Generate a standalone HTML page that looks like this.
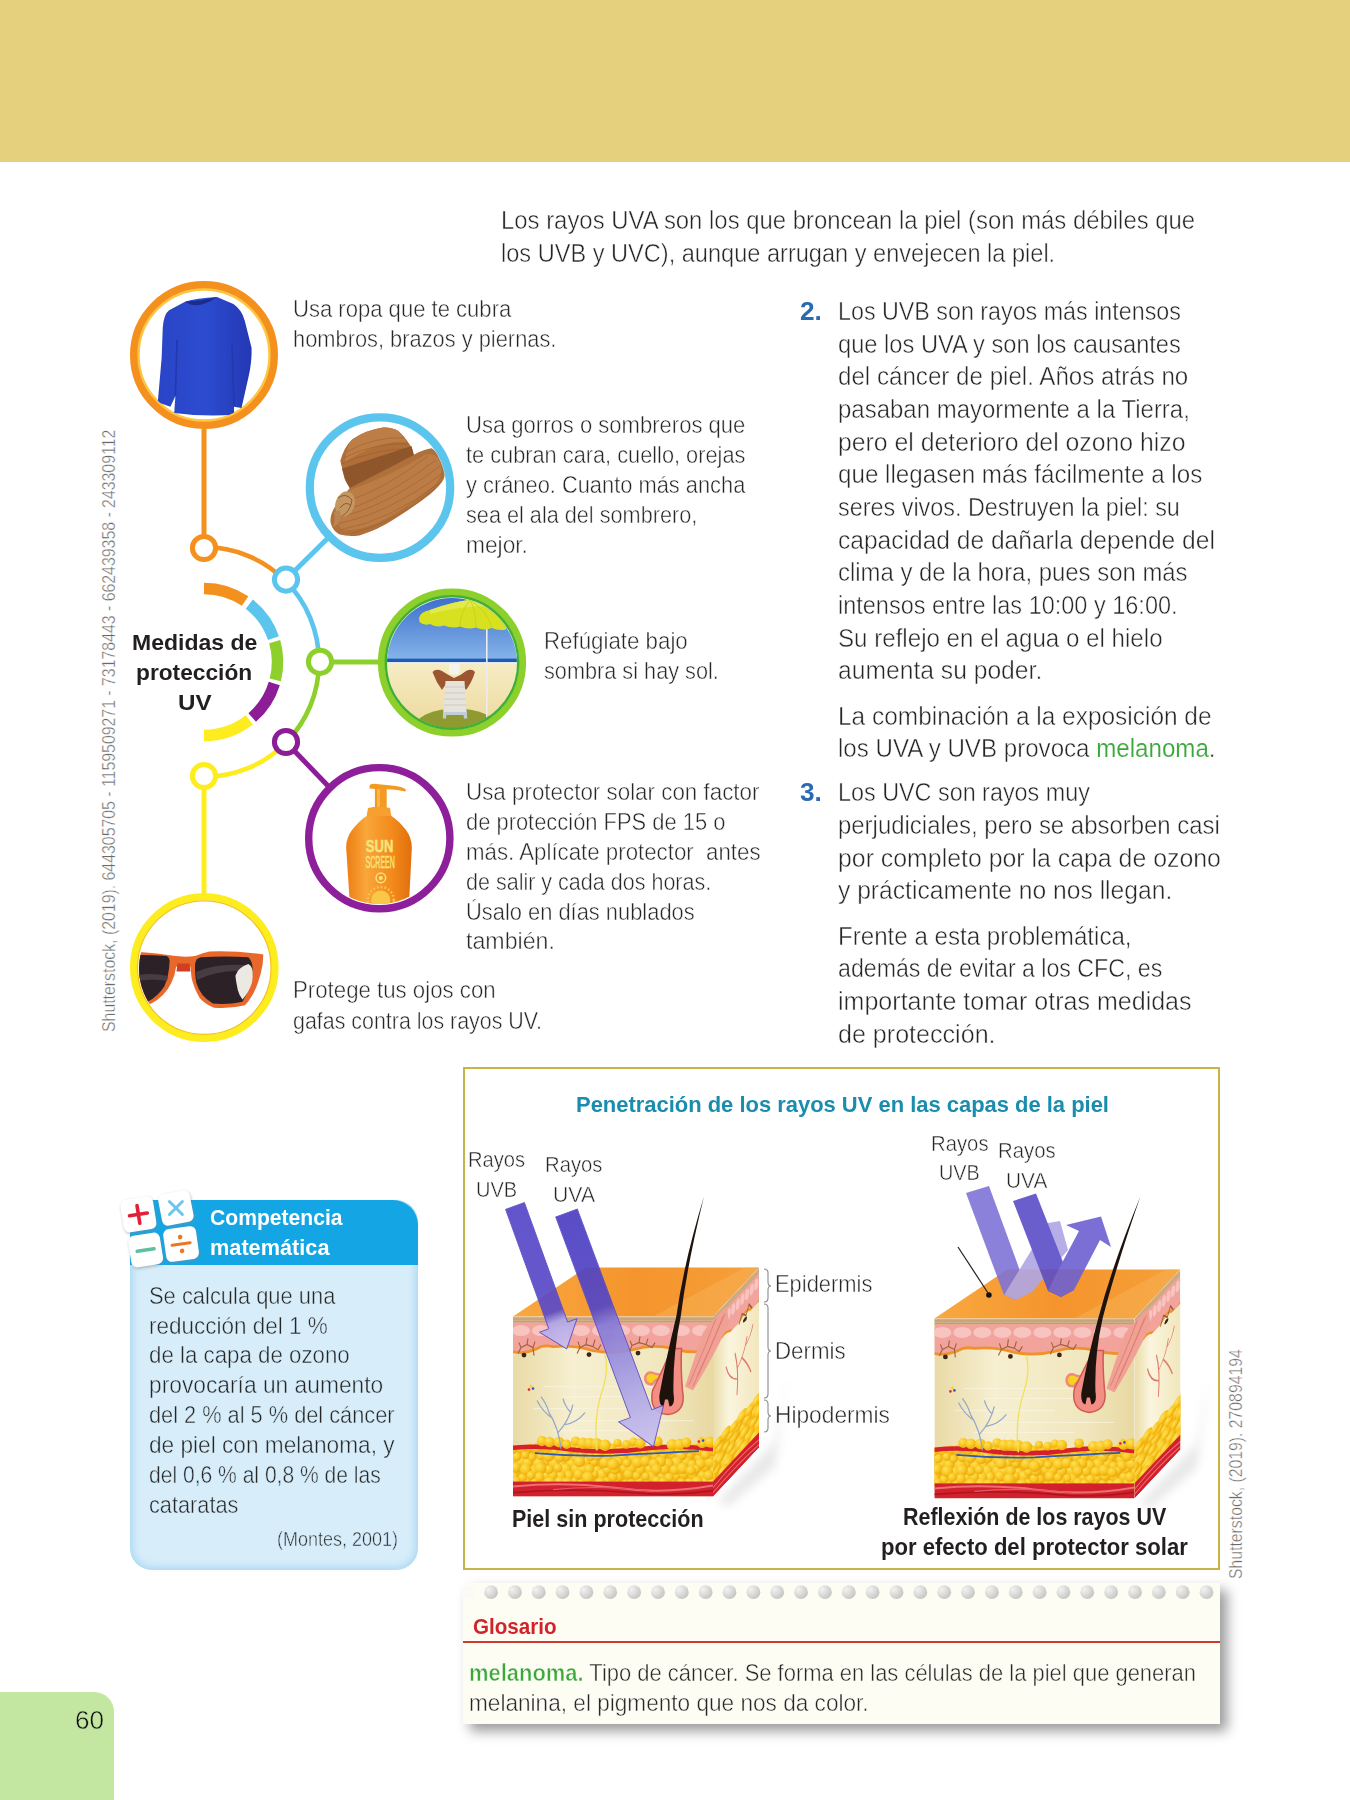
<!DOCTYPE html>
<html lang="es"><head><meta charset="utf-8"><title>Medidas de protección UV</title>
<style>
html,body{margin:0;padding:0;background:#fff}
body{width:1350px;height:1800px;position:relative;overflow:hidden;font-family:"Liberation Sans",sans-serif;color:#262626}
.t{position:absolute;white-space:pre;line-height:1;transform-origin:0 0;margin:0;-webkit-text-stroke:0.5px #fff}
.v{position:absolute;white-space:pre;line-height:1;transform-origin:0 0;color:#6a6a6a;-webkit-text-stroke:0.4px #fff}
.abs{position:absolute}
svg{position:absolute;left:0;top:0}
</style></head><body>
<div class="abs" style="left:0;top:0;width:1350px;height:162px;background:#e4d07d"></div>
<div class="abs" style="left:0;top:1692px;width:114px;height:108px;background:#c3e6a1;border-top-right-radius:20px"></div>
<div class="abs" style="left:463px;top:1067px;width:753px;height:499px;border:2px solid #c9b344"></div>
<div class="abs" style="left:463px;top:1583px;width:757px;height:141px;background:#fdfdf4;box-shadow:7px 7px 12px rgba(0,0,0,.4)"></div>
<div class="abs" style="left:463px;top:1640.8px;width:757px;height:2.1px;background:#cf3a2e"></div>
<div class="abs" style="left:130px;top:1200px;width:288px;height:370px;background:#d7edfa;border-radius:22px;box-shadow:inset 0 0 8px 2px #a4d5f0"></div>
<div class="abs" style="left:130px;top:1200px;width:288px;height:65px;background:#14a6e4;border-radius:22px 25px 0 0"></div>
<svg width="1350" height="1800" viewBox="0 0 1350 1800">
<defs>
  <clipPath id="c1"><circle cx="204" cy="355" r="65"/></clipPath>
  <clipPath id="c2"><circle cx="380" cy="487.5" r="66"/></clipPath>
  <clipPath id="c3"><circle cx="452" cy="663" r="65"/></clipPath>
  <clipPath id="c4"><circle cx="379" cy="838" r="66"/></clipPath>
  <clipPath id="c5"><circle cx="204" cy="968.5" r="65"/></clipPath>
  <linearGradient id="sky" x1="0" y1="0" x2="0" y2="1">
    <stop offset="0" stop-color="#3567c8"/><stop offset="1" stop-color="#86b4ea"/>
  </linearGradient>
  <linearGradient id="sand" x1="0" y1="0" x2="0" y2="1">
    <stop offset="0" stop-color="#f6ecc4"/><stop offset="1" stop-color="#ecd79a"/>
  </linearGradient>
  <linearGradient id="bottle" x1="0" y1="0" x2="1" y2="0">
    <stop offset="0" stop-color="#ee7d12"/><stop offset=".3" stop-color="#f9a63a"/><stop offset=".7" stop-color="#f38a1c"/><stop offset="1" stop-color="#e06f0c"/>
  </linearGradient>
  <linearGradient id="sweat" x1="0" y1="0" x2="1" y2="0">
    <stop offset="0" stop-color="#2a44c6"/><stop offset=".5" stop-color="#2c4cd0"/><stop offset="1" stop-color="#2438b4"/>
  </linearGradient>
</defs>

<!-- connector lines -->
<g fill="none" stroke-width="5">
  <line x1="204" y1="425" x2="204" y2="536" stroke="#f4911e"/>
  <line x1="294" y1="571.5" x2="332" y2="534" stroke="#5bc5ee"/>
  <line x1="331" y1="662" x2="382" y2="662" stroke="#8dd02c"/>
  <line x1="294" y1="750.5" x2="331" y2="789" stroke="#8c1d97"/>
  <line x1="204" y1="788" x2="204" y2="898" stroke="#fdec1e"/>
</g>
<!-- outer arcs r=115 about (204,662) -->
<g fill="none" stroke-width="4.6">
  <path d="M204 547 A115 115 0 0 1 285.3 580.7" stroke="#f4911e"/>
  <path d="M285.3 580.7 A115 115 0 0 1 319 662" stroke="#5bc5ee"/>
  <path d="M319 662 A115 115 0 0 1 285.3 743.3" stroke="#8dd02c"/>
  <path d="M285.3 743.3 A115 115 0 0 1 204 777" stroke="#fdec1e"/>
</g>
<!-- inner segmented arcs r=73.5 -->
<g fill="none" stroke-width="11.5">
  <path d="M204.0 588.5 A73.5 73.5 0 0 1 245.1 601.1" stroke="#f4911e"/>
  <path d="M249.3 604.1 A73.5 73.5 0 0 1 273.5 638.1" stroke="#5bc5ee"/>
  <path d="M274.7 641.7 A73.5 73.5 0 0 1 275.3 679.8" stroke="#8dd02c"/>
  <path d="M274.3 683.5 A73.5 73.5 0 0 1 252.2 717.5" stroke="#8c1d97"/>
  <path d="M249.3 719.9 A73.5 73.5 0 0 1 204.0 735.5" stroke="#fdec1e"/>
</g>
<!-- nodes -->
<g fill="#fff" stroke-width="5">
  <circle cx="204" cy="548" r="11.6" stroke="#f4911e"/>
  <circle cx="286" cy="579.6" r="11.6" stroke="#5bc5ee"/>
  <circle cx="320" cy="661.8" r="11.6" stroke="#8dd02c"/>
  <circle cx="286" cy="742" r="11.6" stroke="#8c1d97"/>
  <circle cx="204" cy="776" r="11.6" stroke="#fdec1e"/>
</g>

<!-- circle 1 : sweater -->
<circle cx="204" cy="355" r="70" fill="#fff" stroke="#f4911e" stroke-width="8"/>
<circle cx="204" cy="355" r="65.5" fill="none" stroke="#fdc540" stroke-width="2.4"/>
<g clip-path="url(#c1)">
  <path d="M185.5 301.5 Q196 298 217 297 L233.4 304 Q242 310 244.7 320.4 L251.6 348 Q252 362 248.5 377 L241.5 408 L234 406.7 L234 414.8 Q204 417 174.2 413 L175.4 396 L170.4 406.7 L157.8 402.2 L161.6 358.2 L162.8 326.7 Q164 314 169.1 310.3 Z" fill="url(#sweat)"/>
  <path d="M185.5 301.5 Q196.8 311 217 297 Q200 301 185.5 301.5Z" fill="#1c2c8c"/>
  <path d="M175.4 396 L177 340 M234 406 L232 345" stroke="#2238ae" stroke-width="1.6" fill="none"/>
</g>

<!-- circle 2 : hat -->
<circle cx="380" cy="487.6" r="70.2" fill="#fff" stroke="#5bc5ee" stroke-width="8.2"/>
<g clip-path="url(#c2)">
  <path d="M349.8 488 L335.6 505.7 Q329 516 330.8 523.5 Q333 531 339.1 534.2 Q348 537 359.3 535.4 Q378 530 394.8 518.8 Q415 506 430.4 493.9 Q441 485 444 478.5 Q446.5 470 442.2 461.9 Q438 452 431.6 448.3 Q422 450 413.8 454.8 L380 450 Z" fill="#b0703a"/>
  <path d="M350 490 Q390 476 425 455 Q436 452 440 462 Q444 474 436 484 Q410 506 380 522 Q356 532 342 530 Q336 524 340 508 Z" fill="#bc7c46"/>
  <g fill="none" stroke="#9a5e2e" stroke-width=".8" opacity=".65">
    <path d="M338 512 Q380 502 436 460"/><path d="M336 518 Q384 508 440 466"/><path d="M336 524 Q388 514 443 473"/><path d="M340 530 Q392 520 442 481"/><path d="M350 534 Q398 522 436 488"/><path d="M344 502 Q384 490 428 456"/>
  </g>
  <path d="M352.1 439.4 Q366 430 383 427.5 Q392 427 398.4 431.1 Q408 440 412.6 450 L413.8 454.8 Q385 470 349.8 488 Q344 480 343.9 476.1 L340.3 460.7 Q344 447 352.1 439.4 Z" fill="#b06e38"/>
  <path d="M352.1 439.4 Q366 430 383 427.5 Q392 427 398.4 431.1 Q404 436 407 442 Q380 440 345 462 Q346 446 352.1 439.4Z" fill="#bd7d46"/>
  <g fill="none" stroke="#965a2c" stroke-width=".8" opacity=".6">
    <path d="M346 452 Q376 436 404 438"/><path d="M343 458 Q376 442 408 444"/><path d="M341 464 Q378 448 411 449"/>
  </g>
  <path d="M342 468.5 Q378 457 411.5 446 L413.8 455 Q385 470 349.8 488 Q345 480 342 468.5Z" fill="#8f562c"/>
  <ellipse cx="345" cy="504" rx="9.5" ry="13" transform="rotate(18 345 504)" fill="#c49662"/>
  <path d="M338 498 Q346 492 352 500 Q350 512 342 516 M340 508 Q346 500 351 506" stroke="#8f5a30" stroke-width="1" fill="none"/>
  <path d="M334 512 Q336 522 332 528 L338 524 Q342 518 340 510Z" fill="#b88654"/>
</g>

<!-- circle 3 : beach -->
<circle cx="452" cy="662.5" r="70.6" fill="#fff" stroke="#8dd02c" stroke-width="7"/>
<g clip-path="url(#c3)">
  <rect x="380" y="590" width="144" height="70" fill="url(#sky)"/>
  <rect x="380" y="658.6" width="144" height="3.4" fill="#1f5bb2"/>
  <rect x="380" y="662" width="144" height="1.4" fill="#dfe8f2"/>
  <rect x="380" y="663.2" width="144" height="70" fill="url(#sand)"/>
  <ellipse cx="456" cy="728" rx="42" ry="19.5" fill="#8f9b30"/>
  <path d="M419 618 Q420 612 430 610 Q452 602 470.4 599.8 Q490 604 506 622 L506 629.5 Q498 631 492 628 Q484 631 476 627.5 Q468 630 460 626.5 Q452 629 444 625.5 Q436 628 430 624 Q424 626 419.5 622 Z" fill="#d7e11f"/>
  <path d="M430 610 Q452 602 470.4 599.8 Q478 601 486 606 Q460 606 430 614Z" fill="#e2ea4a"/>
  <path d="M470.4 600 Q476 612 476 627 M470.4 600 Q460 612 460 626 M470.4 600 Q488 612 492 628" stroke="#c3cf18" stroke-width=".8" fill="none"/>
  <rect x="486" y="629" width="1.6" height="88" fill="#ececec"/>
  <path d="M432.5 672 Q436 668 442 671 Q450 676 454 678 Q460 676 466 671 Q472 668 475 672 Q472 682 466 690 L462 684 L446 684 L442 690 Q436 682 432.5 672Z" fill="#9c5530"/>
  <rect x="449" y="663.6" width="10.8" height="11" rx="3.5" fill="#f4f3ee"/>
  <path d="M445.5 681 L464.5 681 L466.8 714 L443.1 714 Z" fill="#e6e3dc"/>
  <path d="M445 687H465M444.6 693H465.4M444.2 699H465.8M443.8 705H466.2" stroke="#cfcbc2" stroke-width="1"/>
  <path d="M443.1 712 L466.8 712 L467.2 718.5 L464 718.5 L463.6 715 L446.4 715 L446 718.5 L442.8 718.5Z" fill="#c2cdd8"/>
</g>
<circle cx="452" cy="662.5" r="66.2" fill="none" stroke="#3fb034" stroke-width="2.4"/>

<!-- circle 4 : sunscreen -->
<circle cx="379.3" cy="838.2" r="70.6" fill="#fff" stroke="#8e1f9a" stroke-width="7.4"/>
<g clip-path="url(#c4)">
  <path d="M369.5 786 Q370 783.7 374 783.7 L396 786 Q404 787 406.3 790.2 L405 791.5 Q398 789.5 386.7 789.2 L386.7 808 L374.9 808 L374.9 789 L369.5 788.6Z" fill="#f39a22"/>
  <rect x="377" y="789" width="3" height="19" fill="#f9b648"/>
  <path d="M368 808 Q379 805.5 390 808 L391.4 816.3 L366.6 816.3Z" fill="#f6a030"/>
  <path d="M366.6 816 L391.4 816 Q398 820 406 830 Q412 838 411.8 848 L408.6 912 L350.4 912 L346.2 848 Q346 838 352 830 Q360 820 366.6 816Z" fill="url(#bottle)"/>
  <g fill="#f7e47c" font-family="Liberation Sans, sans-serif" font-weight="bold" text-anchor="middle" stroke="#f7e47c" stroke-width=".5">
    <text x="379.6" y="851.6" font-size="17" textLength="27.5" lengthAdjust="spacingAndGlyphs">SUN</text>
    <text x="380.2" y="867.6" font-size="17" textLength="29.5" lengthAdjust="spacingAndGlyphs" font-weight="normal">SCREEN</text>
  </g>
  <circle cx="380.8" cy="877.9" r="4.8" fill="none" stroke="#f7e47c" stroke-width="1.5"/>
  <circle cx="380.8" cy="877.9" r="2" fill="#f7e47c"/>
  <circle cx="380.8" cy="900" r="9.5" fill="#f9c848"/>
  <circle cx="380.8" cy="900" r="13" fill="none" stroke="#f9c848" stroke-width="2.4" stroke-dasharray="1.6 2.2"/>
</g>

<!-- circle 5 : sunglasses -->
<circle cx="204.3" cy="967.6" r="70.8" fill="#fff" stroke="#fdec1e" stroke-width="7"/>
<circle cx="204.3" cy="967.6" r="66.8" fill="none" stroke="#f5c312" stroke-width="1.3"/>
<g clip-path="url(#c5)">
  <path d="M132 951.6 Q156 953 171.4 955.6 Q184 957.5 195.1 956.1 Q202 953 209.3 951.4 Q238 950.6 263.3 954.4 L262.7 963.9 Q261 974 257.9 982.8 Q253 997 244.9 1005.3 Q230 1009 214.1 1007.7 Q205 1004 199.9 998.2 Q194 989 191.6 978.1 L190.4 966.8 L176.1 966.8 Q175 976 171.4 982.8 Q168 990 163.1 994.7 Q158 1000 151.3 1003.6 Q145 1006 132 1007 Z" fill="#e8672a"/>
  <path d="M177.5 963.5 L189.5 963.5 L190.4 971.5 L176.5 971.5Z" fill="#cf3f22"/>
  <path d="M195.1 963.9 Q196 958 201 957.3 Q225 955.6 248.4 957.3 Q253 962 252.6 971 Q250 990 242.5 1001.8 Q228 1005 212.9 1003.6 Q200 996 196.3 982.8 Q194.6 972 195.1 963.9Z" fill="#2c2126"/>
  <path d="M132 955 Q150 954.6 166.7 956.1 Q170 958 169.6 961.5 Q169 976 164.3 986.4 Q158 996 147.7 1001.8 Q140 1004 132 1004.7Z" fill="#2c2126"/>
  <path d="M196 972 Q220 962 251 966 L252 972 Q222 968 197 980Z" fill="#473c42"/>
  <path d="M132 976 Q150 972 168 976 L167 981 Q150 978 132 982Z" fill="#473c42"/>
  <path d="M248.4 963.9 Q252 966 252.6 971 Q253 978 252 982.8 Q249 992 242.5 999.4 Q239 995 237.8 989.9 Q236 982 235.4 975.7 Q237 971 240.1 968.6 Q244 965 248.4 963.9Z" fill="#ece8e2"/>
</g>
<defs>
  <linearGradient id="topg" x1="0" y1="0" x2="1" y2="0">
    <stop offset="0" stop-color="#f9a840"/><stop offset=".5" stop-color="#f5942c"/><stop offset="1" stop-color="#f6a03a"/>
  </linearGradient>
  <linearGradient id="dermg" x1="0" y1="0" x2="1" y2="0">
    <stop offset="0" stop-color="#e9daa6"/><stop offset=".3" stop-color="#f6efd0"/><stop offset=".75" stop-color="#f1e7be"/><stop offset="1" stop-color="#e8d8a2"/>
  </linearGradient>
  <linearGradient id="dermside" x1="0" y1="0" x2="1" y2="0">
    <stop offset="0" stop-color="#eadca8"/><stop offset=".35" stop-color="#faf5de"/><stop offset="1" stop-color="#f1e6bc"/>
  </linearGradient>
  <linearGradient id="ray" x1="0" y1="0" x2="1" y2="0">
    <stop offset="0" stop-color="#5546c6"/><stop offset=".74" stop-color="#5b4bc8"/><stop offset=".81" stop-color="#b0a7e8"/><stop offset="1" stop-color="#cbc4f1"/>
  </linearGradient>
  <linearGradient id="rayA" x1="0" y1="0" x2="1" y2="0">
    <stop offset="0" stop-color="#4c3fc2"/><stop offset=".40" stop-color="#5446c6"/><stop offset=".47" stop-color="#8479d8"/><stop offset=".8" stop-color="#b3abe8"/><stop offset="1" stop-color="#c9c2f0"/>
  </linearGradient>
  <radialGradient id="fatb" cx=".35" cy=".32" r=".75">
    <stop offset="0" stop-color="#fde15c"/><stop offset=".55" stop-color="#f9c61e"/><stop offset="1" stop-color="#e9a30c"/>
  </radialGradient>
  <filter id="blur3" x="-50%" y="-50%" width="200%" height="200%"><feGaussianBlur stdDeviation="5"/></filter>

  <clipPath id="fclip"><rect x="0" y="0" width="200" height="180"/></clipPath>
  <clipPath id="sclip"><rect x="0" y="0" width="46" height="180"/></clipPath>
  <g id="face" clip-path="url(#fclip)">
    <rect x="0" y="0" width="200" height="180" fill="url(#dermg)"/>
    <g stroke="#fbf7e6" stroke-width="1" opacity=".7"><path d="M30 70H150M50 80H170M20 92H120M60 104H180M40 114H140"/></g>
    <rect x="0" y="0" width="200" height="7" fill="#d2b088"/>
    <path d="M0 2.5H200M0 5H200" stroke="#b99468" stroke-width=".7"/>
    <path d="M0 6 L200 6 L200 33 Q180 38 160 32 Q140 27 120 33 Q100 38 80 34 Q60 28 40 30 Q30 28 24 32 Q10 38 0 35 Z" fill="#f2a39c"/>
    <g fill="#f8c4c0">
      <ellipse cx="8" cy="14" rx="9" ry="5.5"/><ellipse cx="28" cy="14" rx="9" ry="5.5"/><ellipse cx="48" cy="14" rx="9" ry="5.5"/><ellipse cx="68" cy="14" rx="9" ry="5.5"/><ellipse cx="88" cy="14" rx="9" ry="5.5"/><ellipse cx="108" cy="14" rx="9" ry="5.5"/><ellipse cx="128" cy="14" rx="9" ry="5.5"/><ellipse cx="148" cy="14" rx="9" ry="5.5"/><ellipse cx="168" cy="14" rx="9" ry="5.5"/><ellipse cx="188" cy="14" rx="9" ry="5.5"/>
    </g>
    <path d="M0 35 Q10 38 24 32 Q30 28 40 30 Q60 28 80 34 Q100 38 120 33 Q140 27 160 32 Q180 38 200 33" fill="none" stroke="#ef922a" stroke-width="2.8"/>
    <rect x="0" y="130" width="200" height="38" fill="#f1b414"/>
    <g fill="url(#fatb)">
<circle cx="32.6" cy="159.3" r="4.3"/>
<circle cx="162.7" cy="159.3" r="4.5"/>
<circle cx="84.3" cy="153.8" r="4.4"/>
<circle cx="176.9" cy="166.6" r="5.5"/>
<circle cx="126.7" cy="138.1" r="4.8"/>
<circle cx="163.3" cy="133.7" r="5.8"/>
<circle cx="16.4" cy="131.3" r="4.1"/>
<circle cx="182.0" cy="132.9" r="5.7"/>
<circle cx="136.8" cy="152.5" r="5.5"/>
<circle cx="175.8" cy="139.1" r="4.5"/>
<circle cx="0.8" cy="159.8" r="4.3"/>
<circle cx="48.8" cy="134.7" r="5.2"/>
<circle cx="120.2" cy="140.6" r="5.6"/>
<circle cx="173.0" cy="144.9" r="5.9"/>
<circle cx="48.2" cy="147.2" r="4.7"/>
<circle cx="32.3" cy="144.9" r="4.5"/>
<circle cx="58.7" cy="147.2" r="6.0"/>
<circle cx="23.1" cy="131.5" r="4.9"/>
<circle cx="118.0" cy="167.5" r="5.1"/>
<circle cx="-1.2" cy="144.4" r="5.7"/>
<circle cx="189.5" cy="158.5" r="4.6"/>
<circle cx="191.8" cy="151.1" r="4.1"/>
<circle cx="185.8" cy="141.3" r="4.2"/>
<circle cx="159.4" cy="137.9" r="4.2"/>
<circle cx="187.3" cy="147.3" r="5.6"/>
<circle cx="197.4" cy="145.6" r="6.0"/>
<circle cx="135.2" cy="165.8" r="4.8"/>
<circle cx="179.3" cy="158.6" r="4.1"/>
<circle cx="105.3" cy="160.7" r="4.5"/>
<circle cx="168.5" cy="138.3" r="5.7"/>
<circle cx="28.5" cy="165.8" r="5.6"/>
<circle cx="201.9" cy="154.1" r="5.3"/>
<circle cx="149.9" cy="138.3" r="4.1"/>
<circle cx="52.5" cy="139.3" r="5.7"/>
<circle cx="115.5" cy="132.1" r="5.6"/>
<circle cx="133.7" cy="138.0" r="5.3"/>
<circle cx="168.4" cy="165.9" r="4.5"/>
<circle cx="8.3" cy="144.8" r="5.9"/>
<circle cx="25.9" cy="146.8" r="6.0"/>
<circle cx="127.1" cy="152.9" r="5.5"/>
<circle cx="22.1" cy="164.4" r="4.9"/>
<circle cx="187.0" cy="133.7" r="5.3"/>
<circle cx="130.4" cy="134.7" r="5.5"/>
<circle cx="191.4" cy="166.6" r="6.0"/>
<circle cx="111.7" cy="151.3" r="5.1"/>
<circle cx="20.3" cy="154.0" r="5.9"/>
<circle cx="163.6" cy="145.8" r="5.9"/>
<circle cx="41.1" cy="147.1" r="5.5"/>
<circle cx="200.3" cy="138.7" r="4.2"/>
<circle cx="106.4" cy="132.3" r="5.2"/>
<circle cx="198.6" cy="134.2" r="5.3"/>
<circle cx="52.8" cy="152.5" r="5.8"/>
<circle cx="27.8" cy="139.2" r="4.3"/>
<circle cx="148.9" cy="159.1" r="4.1"/>
<circle cx="14.7" cy="146.2" r="5.1"/>
<circle cx="61.0" cy="164.2" r="4.8"/>
<circle cx="89.4" cy="157.9" r="5.6"/>
<circle cx="94.2" cy="153.5" r="4.3"/>
<circle cx="101.3" cy="165.6" r="4.9"/>
<circle cx="55.7" cy="158.6" r="4.9"/>
<circle cx="124.2" cy="146.0" r="5.8"/>
<circle cx="47.5" cy="159.4" r="5.4"/>
<circle cx="156.8" cy="133.3" r="5.3"/>
<circle cx="118.0" cy="151.9" r="5.1"/>
<circle cx="123.1" cy="134.4" r="5.1"/>
<circle cx="155.2" cy="147.2" r="5.6"/>
<circle cx="137.9" cy="160.5" r="5.6"/>
<circle cx="73.3" cy="144.4" r="5.0"/>
<circle cx="12.5" cy="164.7" r="5.5"/>
<circle cx="132.3" cy="144.6" r="5.3"/>
<circle cx="102.6" cy="140.0" r="5.4"/>
<circle cx="2.8" cy="150.9" r="5.1"/>
<circle cx="18.9" cy="140.5" r="4.2"/>
<circle cx="68.2" cy="166.7" r="4.3"/>
<circle cx="112.4" cy="167.5" r="4.5"/>
<circle cx="199.3" cy="167.0" r="5.3"/>
<circle cx="126.6" cy="164.0" r="4.6"/>
<circle cx="39.9" cy="158.6" r="4.7"/>
<circle cx="8.3" cy="132.5" r="4.1"/>
<circle cx="139.1" cy="133.9" r="4.2"/>
<circle cx="179.1" cy="147.6" r="4.3"/>
<circle cx="36.0" cy="153.0" r="4.6"/>
<circle cx="109.1" cy="141.0" r="5.4"/>
<circle cx="9.6" cy="160.9" r="4.3"/>
<circle cx="99.9" cy="160.4" r="4.8"/>
<circle cx="142.3" cy="139.0" r="4.4"/>
<circle cx="147.6" cy="131.3" r="4.3"/>
<circle cx="12.8" cy="152.8" r="5.9"/>
<circle cx="183.1" cy="152.5" r="4.3"/>
<circle cx="3.7" cy="140.2" r="4.6"/>
<circle cx="63.0" cy="152.4" r="5.2"/>
<circle cx="44.8" cy="151.4" r="4.5"/>
<circle cx="27.7" cy="151.8" r="5.7"/>
<circle cx="41.5" cy="134.6" r="4.4"/>
<circle cx="94.5" cy="141.2" r="4.7"/>
<circle cx="101.9" cy="152.7" r="5.1"/>
<circle cx="91.8" cy="145.9" r="5.4"/>
<circle cx="81.2" cy="157.6" r="4.2"/>
<circle cx="192.6" cy="138.1" r="4.9"/>
<circle cx="105.6" cy="145.1" r="4.7"/>
<circle cx="143.5" cy="164.0" r="4.4"/>
<circle cx="69.7" cy="152.8" r="5.8"/>
<circle cx="170.8" cy="158.0" r="4.5"/>
<circle cx="35.4" cy="139.4" r="5.7"/>
<circle cx="93.4" cy="165.1" r="4.6"/>
<circle cx="87.4" cy="166.4" r="5.7"/>
<circle cx="151.5" cy="152.8" r="5.4"/>
<circle cx="46.5" cy="140.7" r="5.1"/>
<circle cx="68.5" cy="138.6" r="4.3"/>
<circle cx="65.6" cy="157.7" r="5.2"/>
<circle cx="72.7" cy="133.3" r="5.6"/>
<circle cx="26.4" cy="160.4" r="5.0"/>
<circle cx="62.9" cy="141.2" r="4.7"/>
<circle cx="81.2" cy="145.3" r="4.1"/>
<circle cx="161.5" cy="153.4" r="5.0"/>
<circle cx="195.6" cy="158.7" r="5.0"/>
<circle cx="46.8" cy="165.2" r="5.4"/>
<circle cx="158.2" cy="165.1" r="4.1"/>
<circle cx="76.2" cy="152.5" r="5.0"/>
<circle cx="88.6" cy="131.9" r="4.1"/>
<circle cx="147.5" cy="145.0" r="5.5"/>
<circle cx="115.5" cy="157.8" r="5.1"/>
<circle cx="113.7" cy="146.6" r="4.4"/>
<circle cx="156.0" cy="160.8" r="4.7"/>
<circle cx="169.7" cy="151.8" r="5.8"/>
<circle cx="64.2" cy="132.3" r="4.3"/>
<circle cx="18.0" cy="158.9" r="4.4"/>
<circle cx="132.8" cy="159.7" r="4.1"/>
<circle cx="-1.3" cy="133.5" r="4.6"/>
<circle cx="140.9" cy="147.1" r="5.3"/>
<circle cx="3.2" cy="164.1" r="4.0"/>
<circle cx="100.2" cy="147.8" r="5.9"/>
<circle cx="150.2" cy="165.4" r="4.5"/>
<circle cx="98.1" cy="132.3" r="5.4"/>
<circle cx="123.7" cy="159.0" r="4.1"/>
<circle cx="177.9" cy="153.9" r="5.1"/>
<circle cx="12.2" cy="138.4" r="4.0"/>
<circle cx="143.5" cy="152.7" r="5.2"/>
<circle cx="77.8" cy="139.9" r="4.5"/>
<circle cx="81.5" cy="133.2" r="5.3"/>
<circle cx="58.7" cy="132.2" r="4.1"/>
<circle cx="172.5" cy="132.8" r="5.2"/>
<circle cx="66.5" cy="145.1" r="5.6"/>
<circle cx="34.0" cy="131.6" r="4.8"/>
<circle cx="184.1" cy="165.2" r="5.8"/>
<circle cx="76.7" cy="164.3" r="4.5"/>
<circle cx="84.3" cy="139.3" r="4.5"/>
<circle cx="36.5" cy="165.8" r="5.7"/>
<circle cx="74.8" cy="160.9" r="6.0"/>
<circle cx="54.0" cy="166.3" r="5.7"/>
    </g>
    <path d="M0 129 Q30 126 60 131 Q100 135 140 129 Q170 126 200 131 L200 135 Q170 130.5 140 133.5 Q100 139.5 60 135.5 Q30 130.5 0 133.5Z" fill="#d8202c"/>
    <path d="M22 136.5 Q60 140 100 139 Q150 136 186 134.5" fill="none" stroke="#2c5ab8" stroke-width="1.8"/>
    <g fill="url(#fatb)">
<circle cx="28.9" cy="124.6" r="5.1"/>
<circle cx="36.5" cy="125.4" r="5.3"/>
<circle cx="46.0" cy="125.5" r="5.3"/>
<circle cx="53.7" cy="127.6" r="4.7"/>
<circle cx="62.6" cy="124.5" r="4.7"/>
<circle cx="69.8" cy="126.7" r="5.7"/>
<circle cx="76.6" cy="126.6" r="5.5"/>
<circle cx="83.6" cy="127.3" r="5.8"/>
<circle cx="92.1" cy="128.6" r="5.8"/>
<circle cx="104.5" cy="126.4" r="4.0"/>
<circle cx="113.4" cy="127.7" r="4.4"/>
<circle cx="120.6" cy="125.2" r="4.2"/>
<circle cx="127.4" cy="126.6" r="5.3"/>
<circle cx="144.6" cy="124.9" r="4.9"/>
<circle cx="159.1" cy="128.0" r="5.5"/>
<circle cx="166.4" cy="127.7" r="5.6"/>
<circle cx="173.2" cy="126.0" r="5.1"/>
<circle cx="189.1" cy="126.2" r="5.3"/>
<circle cx="197.0" cy="125.4" r="5.6"/>
    </g>
    <rect x="0" y="165" width="200" height="15" fill="#d2202c"/>
    <path d="M0 170 Q50 165 100 171 Q150 178 200 169" fill="none" stroke="#ee6f72" stroke-width="2"/>
    <path d="M0 176 Q60 171 120 176 Q160 180 200 174" fill="none" stroke="#b01420" stroke-width="1.6"/>
    <path d="M40 173 Q90 168 140 175" fill="none" stroke="#e85560" stroke-width="1.2"/>
  </g>
  <g id="block">
    <path d="M205 185 L262 125 L275 60 L262 150 L215 190Z" fill="#999" opacity=".22" filter="url(#blur3)"/>
    <polygon points="0,0 73,-49 246,-49 200,0" fill="url(#topg)"/>
    <polygon points="140,0 200,0 246,-49 232,-49" fill="#f9b458" opacity=".45"/>
    <g transform="translate(200 0) skewY(-46.81)" clip-path="url(#sclip)">
      <g transform="scale(.23 1)"><use href="#face"/></g>
      <rect x="0" y="34" width="46" height="96" fill="url(#dermside)"/>
      <rect x="0" y="130" width="46" height="36" fill="#f1b414"/>
      <g fill="url(#fatb)">
<circle cx="35.6" cy="156.7" r="5.9"/>
<circle cx="21.0" cy="142.8" r="5.5"/>
<circle cx="4.3" cy="144.4" r="5.9"/>
<circle cx="36.3" cy="142.8" r="4.9"/>
<circle cx="13.2" cy="156.4" r="5.8"/>
<circle cx="41.5" cy="138.5" r="5.6"/>
<circle cx="26.0" cy="163.1" r="5.4"/>
<circle cx="46.8" cy="142.7" r="5.5"/>
<circle cx="7.0" cy="148.9" r="4.8"/>
<circle cx="46.4" cy="155.7" r="5.3"/>
<circle cx="26.1" cy="151.9" r="4.4"/>
<circle cx="30.2" cy="142.2" r="4.1"/>
<circle cx="20.6" cy="156.2" r="4.8"/>
<circle cx="3.2" cy="156.9" r="4.5"/>
<circle cx="-0.7" cy="150.3" r="5.3"/>
<circle cx="-0.3" cy="136.2" r="4.7"/>
<circle cx="6.8" cy="138.2" r="4.1"/>
<circle cx="40.4" cy="148.6" r="4.2"/>
<circle cx="18.0" cy="136.1" r="4.6"/>
<circle cx="42.2" cy="164.5" r="5.9"/>
<circle cx="14.7" cy="161.6" r="5.7"/>
<circle cx="27.1" cy="155.9" r="4.7"/>
<circle cx="31.5" cy="149.0" r="4.9"/>
<circle cx="-0.9" cy="162.9" r="4.5"/>
<circle cx="34.4" cy="138.4" r="4.7"/>
<circle cx="31.0" cy="162.8" r="5.2"/>
<circle cx="24.6" cy="135.9" r="4.5"/>
<circle cx="9.8" cy="164.5" r="4.9"/>
<circle cx="13.1" cy="143.4" r="4.1"/>
<circle cx="17.9" cy="150.1" r="4.4"/>
        <circle cx="5" cy="131" r="4.6"/><circle cx="13" cy="130" r="5"/><circle cx="21" cy="132" r="4.6"/><circle cx="29" cy="130" r="5.2"/><circle cx="37" cy="132" r="5"/><circle cx="44" cy="130" r="5"/>
      </g>
      <rect x="0" y="165" width="46" height="15" fill="#d2202c"/>
      <path d="M0 171 Q23 167 46 172 M0 176 Q23 173 46 177" fill="none" stroke="#ee6f72" stroke-width="1.4"/>
      <path d="M22 60 Q26 80 24 104 M24 78 Q32 70 34 56 M24 88 Q16 80 13 64 M29 72 Q35 84 38 96 M32 64 Q38 60 40 50" stroke="#e27a6c" stroke-width="1" fill="none"/>
      <g stroke="#9a5a3a" stroke-width="1" fill="none"><path d="M26 36 l3 -8 l4 6 l3 -8 l3 7"/></g>
      <circle cx="32" cy="37" r="2" fill="#3a2416"/>
    </g>
    <use href="#face"/>
    <path d="M48 132 Q46 112 36 96 M45 116 Q56 104 60 88 M40 102 Q30 96 24 84 M52 108 Q64 106 72 96 M58 96 Q52 90 50 82 M36 96 Q34 88 28 80" stroke="#93a6cc" stroke-width="1.2" fill="none"/>
    <path d="M84 134 Q80 100 90 72 Q96 52 92 38" stroke="#efe05a" stroke-width="1.3" fill="none"/>
    <g stroke="#a0603a" stroke-width="1.1" fill="none">
      <path d="M5 37 l3 -6 l-2 -5 m2 5 l6 -3 l1 -6 m-1 6 l6 3 l2 -6 m-2 6 l1 8 M64 37 l3 -6 l-2 -6 m2 6 l6 -3 l1 -7 m-1 7 l7 2 l2 -7 m-2 7 l5 3 l3 -5 M116 36 l3 -7 l-2 -5 m2 5 l7 -3 l1 -6 m-1 6 l7 2 l2 -6 m-2 6 l6 3 l3 -5"/>
    </g>
    <g fill="#3a2416"><circle cx="11" cy="38.5" r="2.4"/><circle cx="76" cy="38" r="2.4"/><circle cx="125" cy="36.5" r="2.4"/></g>
    <g fill="#e02a3a"><circle cx="16" cy="73" r="1.3"/><circle cx="186" cy="125" r="1.3"/></g>
    <g fill="#3a50c8"><circle cx="20" cy="72" r="1.3"/><circle cx="190" cy="124" r="1.3"/></g>
    <g fill="#f4d020"><circle cx="18" cy="69.5" r="1.3"/><circle cx="188" cy="121.5" r="1.3"/></g>
    <!-- arrector muscle -->
    <path d="M172 70 Q182 40 190 16 Q198 4 214 -10 L216 6 Q202 38 180 74Z" fill="#f0a094"/>
    <path d="M176 68 Q190 36 203 2 M180 70 Q196 36 210 0 M184 60 Q198 30 212 -3" stroke="#dc7e70" stroke-width=".9" fill="none"/>
    <!-- sebaceous gland -->
    <path d="M131 60 Q134 52 142 56 L152 58 L152 61 Q144 62 140 69 Q130 70 131 60Z" fill="#f08a80"/>
    <path d="M133.5 60.5 Q136 55 142 58.5 L150 59.5 Q142 61 139 66.5 Q133 66.5 133.5 60.5Z" fill="#f9d21e"/>
  </g>
</defs>
<!-- LEFT BLOCK -->
<use href="#block" x="513" y="1316.6"/>
<g transform="translate(513.0 1316.6)">
<path d="M158.5 32 Q151.5 50.0 139.5 74.0 Q135.5 96.0 154.5 98.0 Q173.5 96.0 169.5 74.0 Q167.5 50.0 168.5 32Z" fill="#f28e84" stroke="#cf5a52" stroke-width="1.5"/>
<path d="M146.5 78.0 Q145.5 89.0 150.5 90.0 L152.0 83.0 L155.0 83.0 L156.5 90.0 Q162.5 89.0 160.5 77.0 Q159.5 40.0 167.7 0.0 Q174.2 -52.0 191.0 -120.0 Q170.8 -54.0 163.3 0.0 Q153.5 40.0 146.5 78.0 Z" fill="#1e120d"/>
</g>
<g transform="translate(515 1206) rotate(70.1)" opacity=".92">
  <path d="M0 -10 L127 -10 L127 -20 L152 0 L127 20 L127 10 L0 10Z" fill="url(#ray)" stroke="#5a4cc4" stroke-width=".9"/>
</g>
<g transform="translate(566.5 1213) rotate(69.6)" opacity=".92">
  <path d="M0 -11.5 L214 -11.5 L214 -24 L249.3 0 L214 24 L214 11.5 L0 11.5Z" fill="url(#rayA)" stroke="#5a4cc4" stroke-width=".9"/>
</g>
<g fill="none" stroke="#8c8c8c" stroke-width="1.1">
  <path d="M764 1269 Q768 1269 768 1273 L768 1282 Q768 1286 771 1286 Q768 1286 768 1290 L768 1298 Q768 1302 764 1302"/>
  <path d="M764 1304 Q768 1304 768 1308 L768 1347 Q768 1351 771 1351 Q768 1351 768 1355 L768 1394 Q768 1398 764 1398"/>
  <path d="M764 1400 Q768 1400 768 1404 L768 1412 Q768 1416 771 1416 Q768 1416 768 1420 L768 1428 Q768 1432 764 1432"/>
</g>
<!-- RIGHT BLOCK -->
<use href="#block" x="934.4" y="1318.4"/>
<g transform="translate(934.4 1318.4)">
<path d="M159.0 32 Q152.0 46.0 140.0 70.0 Q136.0 92.0 155.0 94.0 Q174.0 92.0 170.0 70.0 Q168.0 46.0 169.0 32Z" fill="#f28e84" stroke="#cf5a52" stroke-width="1.5"/>
<path d="M147.0 74.0 Q146.0 85.0 151.0 86.0 L152.5 79.0 L155.5 79.0 L157.0 86.0 Q163.0 85.0 161.0 73.0 Q160.0 36.0 168.2 0.0 Q182.0 -53.0 206.0 -122.0 Q178.5 -55.0 163.8 0.0 Q154.0 36.0 147.0 74.0 Z" fill="#1e120d"/>
</g>
<g opacity=".9">
  <path d="M966 1193 L989 1186 L1027 1290 L1016 1300 L1004 1295Z" fill="#7f73d6"/>
  <path d="M1004 1295 L1016 1300 L1032 1292 L1068 1250 L1060 1221 L1048 1223 Z" fill="#b0a6e6"/>
  <path d="M1013 1201 L1036 1193.6 L1074 1290 L1061 1297 L1048 1291Z" fill="#5a4dc8"/>
  <path d="M1048 1291 L1061 1297 L1074 1290 L1100 1240 L1111 1247 L1101 1216.4 L1066 1225 L1079 1231 L1054 1278Z" fill="#6d60d2"/>
</g>
<path d="M958 1247 L988 1293" stroke="#222" stroke-width="1.2" fill="none"/>
<circle cx="988.9" cy="1295" r="2.8" fill="#111"/>
<defs>
  <radialGradient id="dotg" cx=".3" cy=".3" r=".8">
    <stop offset="0" stop-color="#f2f2f0"/><stop offset=".45" stop-color="#dededc"/><stop offset="1" stop-color="#c2c2c0"/>
  </radialGradient>
  <filter id="tsh" x="-30%" y="-30%" width="160%" height="160%"><feGaussianBlur stdDeviation="1.6"/></filter>
</defs>

<g>
<circle cx="467.6" cy="1592.2" r="6.5" fill="#fafaf7"/>
<circle cx="491.0" cy="1592.2" r="6.9" fill="url(#dotg)"/>
<circle cx="514.9" cy="1592.2" r="6.9" fill="url(#dotg)"/>
<circle cx="538.7" cy="1592.2" r="6.9" fill="url(#dotg)"/>
<circle cx="562.5" cy="1592.2" r="6.9" fill="url(#dotg)"/>
<circle cx="586.4" cy="1592.2" r="6.9" fill="url(#dotg)"/>
<circle cx="610.2" cy="1592.2" r="6.9" fill="url(#dotg)"/>
<circle cx="634.1" cy="1592.2" r="6.9" fill="url(#dotg)"/>
<circle cx="658.0" cy="1592.2" r="6.9" fill="url(#dotg)"/>
<circle cx="681.8" cy="1592.2" r="6.9" fill="url(#dotg)"/>
<circle cx="705.6" cy="1592.2" r="6.9" fill="url(#dotg)"/>
<circle cx="729.5" cy="1592.2" r="6.9" fill="url(#dotg)"/>
<circle cx="753.4" cy="1592.2" r="6.9" fill="url(#dotg)"/>
<circle cx="777.2" cy="1592.2" r="6.9" fill="url(#dotg)"/>
<circle cx="801.0" cy="1592.2" r="6.9" fill="url(#dotg)"/>
<circle cx="824.9" cy="1592.2" r="6.9" fill="url(#dotg)"/>
<circle cx="848.8" cy="1592.2" r="6.9" fill="url(#dotg)"/>
<circle cx="872.6" cy="1592.2" r="6.9" fill="url(#dotg)"/>
<circle cx="896.5" cy="1592.2" r="6.9" fill="url(#dotg)"/>
<circle cx="920.3" cy="1592.2" r="6.9" fill="url(#dotg)"/>
<circle cx="944.2" cy="1592.2" r="6.9" fill="url(#dotg)"/>
<circle cx="968.0" cy="1592.2" r="6.9" fill="url(#dotg)"/>
<circle cx="991.9" cy="1592.2" r="6.9" fill="url(#dotg)"/>
<circle cx="1015.7" cy="1592.2" r="6.9" fill="url(#dotg)"/>
<circle cx="1039.6" cy="1592.2" r="6.9" fill="url(#dotg)"/>
<circle cx="1063.4" cy="1592.2" r="6.9" fill="url(#dotg)"/>
<circle cx="1087.2" cy="1592.2" r="6.9" fill="url(#dotg)"/>
<circle cx="1111.1" cy="1592.2" r="6.9" fill="url(#dotg)"/>
<circle cx="1135.0" cy="1592.2" r="6.9" fill="url(#dotg)"/>
<circle cx="1158.8" cy="1592.2" r="6.9" fill="url(#dotg)"/>
<circle cx="1182.7" cy="1592.2" r="6.9" fill="url(#dotg)"/>
<circle cx="1206.5" cy="1592.2" r="6.9" fill="url(#dotg)"/>
</g>

<g transform="translate(138.4 1214.4) rotate(-9)">
<rect x="-16.0" y="-15.0" width="33" height="33" rx="6" fill="#7a8a96" opacity=".55" filter="url(#tsh)"/>
<rect x="-16.5" y="-16.5" width="33" height="33" rx="6" fill="#fff"/>
<path d="M-9 0H9M0 -9V9" stroke="#e21f36" stroke-width="3.6" stroke-linecap="round"/>
</g>

<g transform="translate(175.9 1208.0) rotate(-11)">
<rect x="-15.5" y="-14.5" width="32" height="32" rx="6" fill="#7a8a96" opacity=".55" filter="url(#tsh)"/>
<rect x="-16.0" y="-16.0" width="32" height="32" rx="6" fill="#fff"/>
<path d="M-6.5 -6.5L6.5 6.5M6.5 -6.5L-6.5 6.5" stroke="#6cc6ec" stroke-width="3" stroke-linecap="round" transform="rotate(11)"/>
</g>

<g transform="translate(145.6 1250.0) rotate(-9)">
<rect x="-15.5" y="-14.5" width="32" height="32" rx="6" fill="#7a8a96" opacity=".55" filter="url(#tsh)"/>
<rect x="-16.0" y="-16.0" width="32" height="32" rx="6" fill="#fff"/>
<path d="M-8.5 0H8.5" stroke="#5dbf9f" stroke-width="3.6" stroke-linecap="round"/>
</g>

<g transform="translate(181.1 1244.0) rotate(-8)">
<rect x="-16.0" y="-15.0" width="33" height="33" rx="6" fill="#7a8a96" opacity=".55" filter="url(#tsh)"/>
<rect x="-16.5" y="-16.5" width="33" height="33" rx="6" fill="#fff"/>
<path d="M-9 0H9" stroke="#ee7623" stroke-width="3.2" stroke-linecap="round"/><circle cx="0" cy="-7" r="2.3" fill="#ee7623"/><circle cx="0" cy="7" r="2.3" fill="#ee7623"/>
</g>
</svg>
<div class="t" id="t0" style="left:501.3px;top:206.8px;font-size:26.0px;transform:scaleX(0.9189);">Los rayos UVA son los que broncean la piel (son más débiles que</div>
<div class="t" id="t1" style="left:501.4px;top:239.9px;font-size:26.0px;transform:scaleX(0.9065);">los UVB y UVC), aunque arrugan y envejecen la piel.</div>
<div class="t" id="t2" style="left:837.9px;top:298.0px;font-size:26.0px;transform:scaleX(0.8953);">Los UVB son rayos más intensos</div>
<div class="t" id="t3" style="left:837.9px;top:330.7px;font-size:26.0px;transform:scaleX(0.9101);">que los UVA y son los causantes</div>
<div class="t" id="t4" style="left:837.8px;top:363.3px;font-size:26.0px;transform:scaleX(0.9285);">del cáncer de piel. Años atrás no</div>
<div class="t" id="t5" style="left:837.8px;top:396.0px;font-size:26.0px;transform:scaleX(0.9222);">pasaban mayormente a la Tierra,</div>
<div class="t" id="t6" style="left:837.8px;top:428.7px;font-size:26.0px;transform:scaleX(0.9542);">pero el deterioro del ozono hizo</div>
<div class="t" id="t7" style="left:837.8px;top:461.3px;font-size:26.0px;transform:scaleX(0.9300);">que llegasen más fácilmente a los</div>
<div class="t" id="t8" style="left:837.9px;top:494.0px;font-size:26.0px;transform:scaleX(0.8995);">seres vivos. Destruyen la piel: su</div>
<div class="t" id="t9" style="left:837.8px;top:526.7px;font-size:26.0px;transform:scaleX(0.9445);">capacidad de dañarla depende del</div>
<div class="t" id="t10" style="left:837.8px;top:559.4px;font-size:26.0px;transform:scaleX(0.9197);">clima y de la hora, pues son más</div>
<div class="t" id="t11" style="left:837.9px;top:592.0px;font-size:26.0px;transform:scaleX(0.9035);">intensos entre las 10:00 y 16:00.</div>
<div class="t" id="t12" style="left:837.8px;top:624.7px;font-size:26.0px;transform:scaleX(0.9278);">Su reflejo en el agua o el hielo</div>
<div class="t" id="t13" style="left:837.8px;top:657.4px;font-size:26.0px;transform:scaleX(0.9483);">aumenta su poder.</div>
<div class="t" id="t14" style="left:800.2px;top:298.0px;font-size:26.0px;transform:scaleX(1.0080);font-weight:bold;color:#2a6ab3;-webkit-text-stroke:0">2.</div>
<div class="t" id="t15" style="left:837.8px;top:702.7px;font-size:26.0px;transform:scaleX(0.9398);">La combinación a la exposición de</div>
<div class="t" id="t16" style="left:837.8px;top:735.4px;font-size:26.0px;transform:scaleX(0.9275);">los UVA y UVB provoca <span style="color:#3aa83a;-webkit-text-stroke:0.15px #fff">melanoma</span>.</div>
<div class="t" id="t17" style="left:800.2px;top:779.4px;font-size:26.0px;transform:scaleX(1.0080);font-weight:bold;color:#2a6ab3;-webkit-text-stroke:0">3.</div>
<div class="t" id="t18" style="left:837.9px;top:779.4px;font-size:26.0px;transform:scaleX(0.8984);">Los UVC son rayos muy</div>
<div class="t" id="t19" style="left:837.8px;top:812.0px;font-size:26.0px;transform:scaleX(0.9206);">perjudiciales, pero se absorben casi</div>
<div class="t" id="t20" style="left:837.8px;top:844.7px;font-size:26.0px;transform:scaleX(0.9563);">por completo por la capa de ozono</div>
<div class="t" id="t21" style="left:837.8px;top:877.4px;font-size:26.0px;transform:scaleX(0.9478);">y prácticamente no nos llegan.</div>
<div class="t" id="t22" style="left:837.8px;top:922.7px;font-size:26.0px;transform:scaleX(0.9275);">Frente a esta problemática,</div>
<div class="t" id="t23" style="left:837.9px;top:955.4px;font-size:26.0px;transform:scaleX(0.8904);">además de evitar a los CFC, es</div>
<div class="t" id="t24" style="left:837.8px;top:988.0px;font-size:26.0px;transform:scaleX(0.9633);">importante tomar otras medidas</div>
<div class="t" id="t25" style="left:837.8px;top:1020.7px;font-size:26.0px;transform:scaleX(0.9647);">de protección.</div>
<div class="t" id="t26" style="left:292.6px;top:296.6px;font-size:24.1px;transform:scaleX(0.9154);">Usa ropa que te cubra</div>
<div class="t" id="t27" style="left:292.6px;top:326.8px;font-size:24.1px;transform:scaleX(0.9065);">hombros, brazos y piernas.</div>
<div class="t" id="t28" style="left:465.6px;top:413.3px;font-size:24.1px;transform:scaleX(0.9149);">Usa gorros o sombreros que</div>
<div class="t" id="t29" style="left:465.6px;top:443.3px;font-size:24.1px;transform:scaleX(0.9030);">te cubran cara, cuello, orejas</div>
<div class="t" id="t30" style="left:465.6px;top:473.3px;font-size:24.1px;transform:scaleX(0.9068);">y cráneo. Cuanto más ancha</div>
<div class="t" id="t31" style="left:465.6px;top:503.3px;font-size:24.1px;transform:scaleX(0.8993);">sea el ala del sombrero,</div>
<div class="t" id="t32" style="left:465.6px;top:533.3px;font-size:24.1px;transform:scaleX(0.9440);">mejor.</div>
<div class="t" id="t33" style="left:544.2px;top:629.2px;font-size:24.1px;transform:scaleX(0.9251);">Refúgiate bajo</div>
<div class="t" id="t34" style="left:544.2px;top:659.2px;font-size:24.1px;transform:scaleX(0.9005);">sombra si hay sol.</div>
<div class="t" id="t35" style="left:465.6px;top:779.6px;font-size:24.1px;transform:scaleX(0.9286);">Usa protector solar con factor</div>
<div class="t" id="t36" style="left:465.6px;top:809.6px;font-size:24.1px;transform:scaleX(0.9091);">de protección FPS de 15 o</div>
<div class="t" id="t37" style="left:465.6px;top:839.6px;font-size:24.1px;transform:scaleX(0.9241);">más. Aplícate protector  antes</div>
<div class="t" id="t38" style="left:465.6px;top:869.6px;font-size:24.1px;transform:scaleX(0.8932);">de salir y cada dos horas.</div>
<div class="t" id="t39" style="left:465.6px;top:899.6px;font-size:24.1px;transform:scaleX(0.9080);">Úsalo en días nublados</div>
<div class="t" id="t40" style="left:465.6px;top:929.3px;font-size:24.1px;transform:scaleX(0.9624);">también.</div>
<div class="t" id="t41" style="left:292.6px;top:978.4px;font-size:24.1px;transform:scaleX(0.9226);">Protege tus ojos con</div>
<div class="t" id="t42" style="left:292.6px;top:1008.8px;font-size:24.1px;transform:scaleX(0.8883);">gafas contra los rayos UV.</div>
<div class="t" id="t43" style="left:131.9px;top:632.1px;font-size:22.6px;transform:scaleX(1.0190);font-weight:bold;color:#231f20;-webkit-text-stroke:0">Medidas de</div>
<div class="t" id="t44" style="left:136.3px;top:662.1px;font-size:22.6px;transform:scaleX(1.0059);font-weight:bold;color:#231f20;-webkit-text-stroke:0">protección</div>
<div class="t" id="t45" style="left:177.7px;top:691.5px;font-size:22.6px;transform:scaleX(1.0699);font-weight:bold;color:#231f20;-webkit-text-stroke:0">UV</div>
<div class="t" id="t46" style="left:209.6px;top:1207.2px;font-size:21.6px;transform:scaleX(0.9777);font-weight:bold;color:#fff;-webkit-text-stroke:0">Competencia</div>
<div class="t" id="t47" style="left:209.5px;top:1237.2px;font-size:21.6px;transform:scaleX(1.0053);font-weight:bold;color:#fff;-webkit-text-stroke:0">matemática</div>
<div class="t" id="t48" style="left:148.5px;top:1283.7px;font-size:24.1px;transform:scaleX(0.9092);-webkit-text-stroke-color:#d4ecf9">Se calcula que una</div>
<div class="t" id="t49" style="left:148.5px;top:1313.6px;font-size:24.1px;transform:scaleX(0.9333);-webkit-text-stroke-color:#d4ecf9">reducción del 1 %</div>
<div class="t" id="t50" style="left:148.5px;top:1343.4px;font-size:24.1px;transform:scaleX(0.9250);-webkit-text-stroke-color:#d4ecf9">de la capa de ozono</div>
<div class="t" id="t51" style="left:148.5px;top:1373.3px;font-size:24.1px;transform:scaleX(0.9453);-webkit-text-stroke-color:#d4ecf9">provocaría un aumento</div>
<div class="t" id="t52" style="left:148.5px;top:1403.2px;font-size:24.1px;transform:scaleX(0.9031);-webkit-text-stroke-color:#d4ecf9">del 2 % al 5 % del cáncer</div>
<div class="t" id="t53" style="left:148.5px;top:1433.0px;font-size:24.1px;transform:scaleX(0.9402);-webkit-text-stroke-color:#d4ecf9">de piel con melanoma, y</div>
<div class="t" id="t54" style="left:148.6px;top:1462.9px;font-size:24.1px;transform:scaleX(0.8739);-webkit-text-stroke-color:#d4ecf9">del 0,6 % al 0,8 % de las</div>
<div class="t" id="t55" style="left:148.5px;top:1492.8px;font-size:24.1px;transform:scaleX(0.9025);-webkit-text-stroke-color:#d4ecf9">cataratas</div>
<div class="t" id="t56" style="left:277.2px;top:1530.3px;font-size:19.4px;transform:scaleX(0.9280);-webkit-text-stroke-color:#d4ecf9">(Montes, 2001)</div>
<div class="t" id="t57" style="left:75.2px;top:1707.9px;font-size:25.0px;transform:scaleX(1.0445);color:#111;-webkit-text-stroke-color:#c3e6a1">60</div>
<div class="t" id="t58" style="left:575.5px;top:1093.9px;font-size:22.6px;transform:scaleX(0.9712);font-weight:bold;color:#1a8cae;-webkit-text-stroke:0">Penetración de los rayos UV en las capas de la piel</div>
<div class="t" id="t59" style="left:468.0px;top:1148.6px;font-size:22.2px;transform:scaleX(0.9086);">Rayos</div>
<div class="t" id="t60" style="left:476.0px;top:1178.6px;font-size:22.2px;transform:scaleX(0.9017);">UVB</div>
<div class="t" id="t61" style="left:545.4px;top:1153.6px;font-size:22.2px;transform:scaleX(0.9134);">Rayos</div>
<div class="t" id="t62" style="left:552.9px;top:1183.6px;font-size:22.2px;transform:scaleX(0.9581);">UVA</div>
<div class="t" id="t63" style="left:774.6px;top:1272.0px;font-size:24.1px;transform:scaleX(0.9088);">Epidermis</div>
<div class="t" id="t64" style="left:774.6px;top:1339.0px;font-size:24.1px;transform:scaleX(0.9260);">Dermis</div>
<div class="t" id="t65" style="left:774.6px;top:1402.6px;font-size:24.1px;transform:scaleX(0.9433);">Hipodermis</div>
<div class="t" id="t66" style="left:930.6px;top:1132.6px;font-size:22.2px;transform:scaleX(0.9150);">Rayos</div>
<div class="t" id="t67" style="left:939.3px;top:1161.7px;font-size:22.2px;transform:scaleX(0.8952);">UVB</div>
<div class="t" id="t68" style="left:997.7px;top:1139.9px;font-size:22.2px;transform:scaleX(0.9165);">Rayos</div>
<div class="t" id="t69" style="left:1006.4px;top:1169.7px;font-size:22.2px;transform:scaleX(0.9399);">UVA</div>
<div class="t" id="t70" style="left:511.9px;top:1507.6px;font-size:23.4px;transform:scaleX(0.9211);font-weight:bold;color:#231f20;-webkit-text-stroke:0">Piel sin protección</div>
<div class="t" id="t71" style="left:902.9px;top:1506.2px;font-size:23.4px;transform:scaleX(0.9161);font-weight:bold;color:#231f20;-webkit-text-stroke:0">Reflexión de los rayos UV</div>
<div class="t" id="t72" style="left:881.1px;top:1536.4px;font-size:23.4px;transform:scaleX(0.9441);font-weight:bold;color:#231f20;-webkit-text-stroke:0">por efecto del protector solar</div>
<div class="t" id="t73" style="left:472.7px;top:1615.7px;font-size:21.6px;transform:scaleX(0.9551);font-weight:bold;color:#d2232a;-webkit-text-stroke:0">Glosario</div>
<div class="t" id="t74" style="left:469.3px;top:1661.0px;font-size:24.1px;transform:scaleX(0.9107);-webkit-text-stroke-color:#fdfdf4"><span style="color:#3aa83a;font-weight:bold;-webkit-text-stroke:0.55px #fdfdf4">melanoma.</span> Tipo de cáncer. Se forma en las células de la piel que generan</div>
<div class="t" id="t75" style="left:469.3px;top:1690.7px;font-size:24.1px;transform:scaleX(0.9383);-webkit-text-stroke-color:#fdfdf4">melanina, el pigmento que nos da color.</div>
<div class="v" id="t76" style="left:100.9px;top:1032.3px;font-size:17.6px;transform:rotate(-90deg) scaleX(0.9010)">Shutterstock, (2019). 644305705 - 1159509271 - 73178443 - 662439358 - 243309112</div>
<div class="v" id="t77" style="left:1227.7px;top:1578.6px;font-size:17.6px;transform:rotate(-90deg) scaleX(0.8966)">Shutterstock, (2019). 270894194</div>
</body></html>
